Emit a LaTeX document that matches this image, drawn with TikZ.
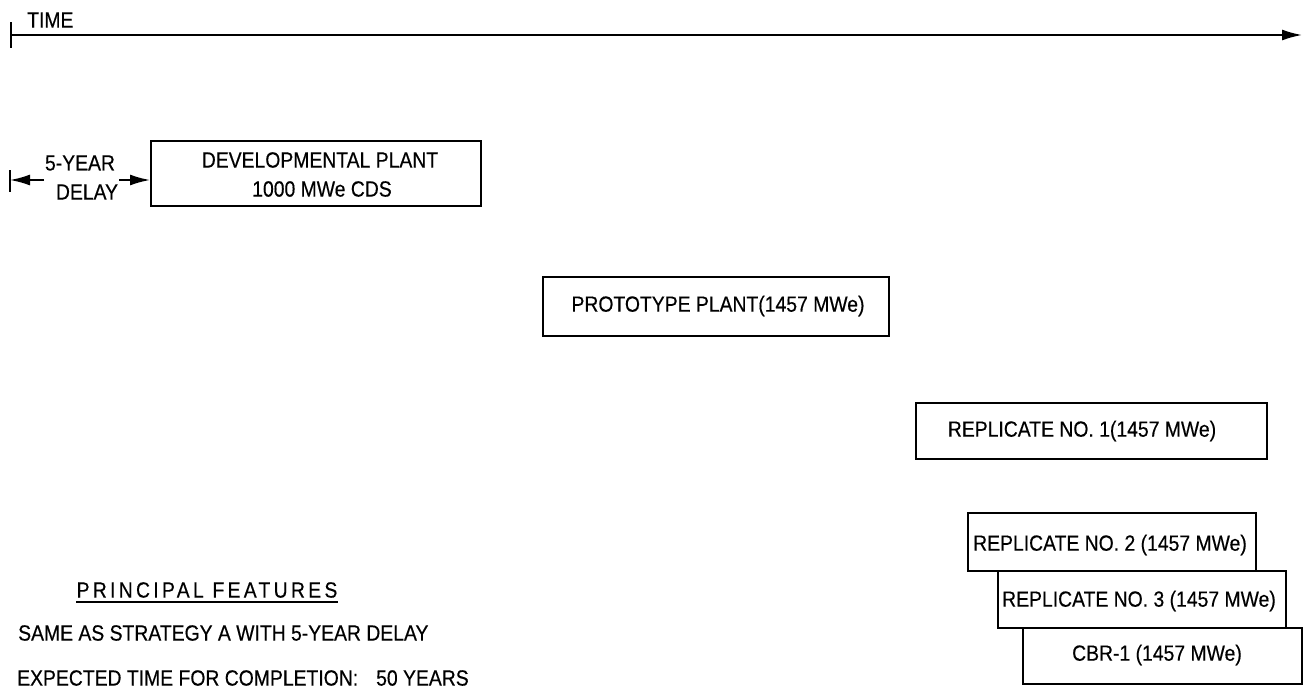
\documentclass[tikz,border=0pt]{standalone}
\usepackage{fontspec}
\setmainfont{Liberation Sans}[FakeStretch=0.88,FakeBold=0.4]
\newfontfamily\spacedfont[LetterSpace=15,FakeStretch=0.88,FakeBold=0.4]{Liberation Sans}
\usetikzlibrary{arrows.meta}
\begin{document}
\begin{tikzpicture}[x=1pt,y=-1pt,
  every node/.style={font=\fontsize{22}{28}\selectfont, inner sep=0pt},
  stagebox/.style={draw, line width=1.8pt, fill=white, anchor=north west},
  ln/.style={line width=1.8pt},
  tip/.style={-{Latex[length=20pt,width=11pt]}, line width=1.8pt}]
\useasboundingbox (0,0) rectangle (1303,691);

% time axis
\coordinate (t0) at (11,35);
\coordinate (t1) at (1302,35);
\coordinate (tt) at (11,22);
\coordinate (tb) at (11,48);
\draw[tip] (t0) -- (t1);
\draw[ln] (tt) -- (tb);
\node[anchor=west] (time) at (27,20) {TIME};

% developmental plant
\node[stagebox, minimum width=330pt, minimum height=65pt] (dev) at (150,140) {};
\node (dev1) at (320,160) {DEVELOPMENTAL PLANT};
\node (dev2) at (322,189) {1000 MWe CDS};

% delay
\coordinate (dl) at (10,180);
\coordinate (dlt) at (10,170);
\coordinate (dlb) at (10,192);
\coordinate (da) at (44,180);
\coordinate (db) at (119,180);
\node (y5) at (80,163) {5-YEAR};
\node (dly) at (87,192) {DELAY};
\draw[ln] (dlt) -- (dlb);
\draw[tip] (da) -- (dl);
\draw[tip] (db) -- (dev.west |- db);

% prototype
\node[stagebox, minimum width=346pt, minimum height=59pt] (proto) at (542,276) {};
\node (protot) at (718,306) {PROTOTYPE PLANT(1457 MWe)};

% replicates
\node[stagebox, minimum width=351pt, minimum height=56pt] (r1) at (915,402) {};
\node (r1t) at (1082,431) {REPLICATE NO. 1(1457 MWe)};

\node[stagebox, minimum width=288pt, minimum height=58pt] (r2) at (967,512) {};
\node (r2t) at (1110,545) {REPLICATE NO. 2 (1457 MWe)};

\node[stagebox, minimum width=288pt, minimum height=57pt] (r3) at (997,570) {};
\node (r3t) at (1139,601) {REPLICATE NO. 3 (1457 MWe)};

\node[stagebox, minimum width=279pt, minimum height=56pt] (cbr) at (1022,627) {};
\node (cbrt) at (1157,655) {CBR-1 (1457 MWe)};

% principal features
\node (pf) at (207,590) {\spacedfont PRINCIPAL FEATURES};
\coordinate (ul) at (76,602);
\coordinate (ur) at (338,602);
\draw[line width=1.3pt] (ul) -- (ur);
\node[anchor=west] (f1) at (18,633) {SAME AS STRATEGY A WITH 5-YEAR DELAY};
\node[anchor=west] (f2) at (17,678) {EXPECTED TIME FOR COMPLETION:\hspace{18pt}50 YEARS};
\end{tikzpicture}
\end{document}
